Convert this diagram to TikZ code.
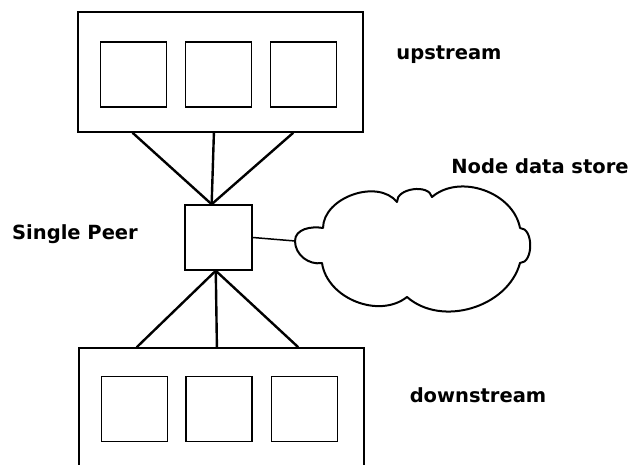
\documentclass[tikz,border=0pt]{standalone}
\usepackage{fontspec}
\setmainfont{DejaVu Sans}
\usetikzlibrary{calc}
\tikzset{
  outerbox/.style={draw, line width=1.5pt, minimum width=285pt, inner sep=0pt},
  cellbox/.style={draw, line width=1.1pt, minimum width=66pt, minimum height=65pt, inner sep=0pt},
  peerbox/.style={draw, line width=1.5pt, minimum width=67pt, minimum height=65pt, inner sep=0pt},
  link/.style={line width=2.4pt},
  cloudline/.style={line width=2pt, line join=round},
  lbl/.style={font=\fontsize{19.5}{22}\selectfont\bfseries, inner sep=0pt}
}
\begin{document}
\begin{tikzpicture}[x=1pt, y=1pt]
\useasboundingbox (0,0) rectangle (631,465);
\clip (0,0) rectangle (631,465);

% upstream group
\node[outerbox, minimum height=120pt] (up) at (220.5,393) {};
\node[cellbox] (up1) at (133.5,390.5) {};
\node[cellbox] (up2) at (218.5,390.5) {};
\node[cellbox] (up3) at (303.5,390.5) {};
\node[lbl] (uplbl) at (449,410) {upstream};

% the peer
\node[peerbox] (peer) at (218.5,227.5) {};
\node[lbl] (peerlbl) at (75,231) {Single Peer};

% downstream group (runs off the lower edge)
\node[outerbox, minimum height=130pt] (down) at (221.5,52) {};
\node[cellbox] (down1) at (134.5,56) {};
\node[cellbox] (down2) at (219,56) {};
\node[cellbox] (down3) at (304.5,56) {};
\node[lbl] (downlbl) at (478,70) {downstream};

% links to the upstream peers
\coordinate (ptop) at ($(peer.north west)!0.4!(peer.north east)$);
\draw[link] ($(up.south west)!0.193!(up.south east)$) -- (ptop);
\draw[link] ($(up.south west)!0.477!(up.south east)$) -- (ptop);
\draw[link] ($(up.south west)!0.754!(up.south east)$) -- (ptop);

% links to the downstream peers
\coordinate (pbot) at ($(peer.south west)!0.46!(peer.south east)$);
\draw[link] (pbot) -- ($(down.north west)!0.204!(down.north east)$);
\draw[link] (pbot) -- ($(down.north west)!0.484!(down.north east)$);
\draw[link] (pbot) -- ($(down.north west)!0.768!(down.north east)$);

% data store cloud
\coordinate (store) at (295,224);
\draw[cloudline] (323,237)
  to[bend left=70] (397,263)
  to[bend left=85] (432,268)
  to[bend left=60] (520,237)
  to[bend left=90] (520,202)
  to[bend left=58] (407,168)
  to[bend left=60] (322,202)
  to[out=190,in=270] (store)
  to[out=90,in=170] cycle;
\node[lbl] (storelbl) at (540,298.5) {Node data store};

\draw[line width=1.5pt] (peer.east) -- (store);
\end{tikzpicture}
\end{document}
